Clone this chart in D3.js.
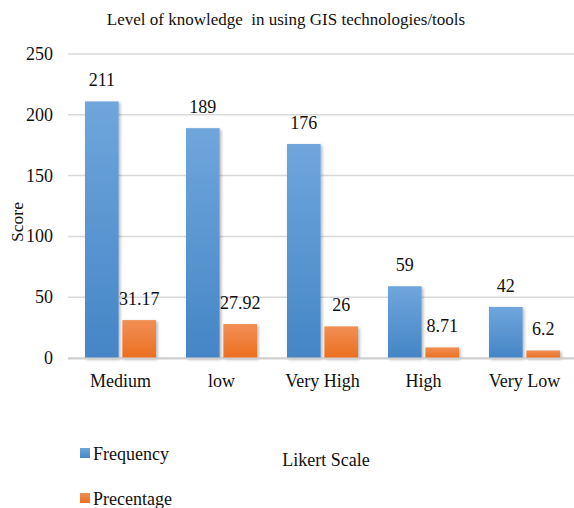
<!DOCTYPE html>
<html lang="en">
<head>
<meta charset="utf-8">
<title>GIS knowledge</title>
<script src="https://d3js.org/d3.v7.min.js"></script>
<style>
body { margin: 0; background: #fff; }
text { font-family: "Liberation Serif", "Times New Roman", serif; fill: #111; }
.grid line { stroke: #d9d9d9; stroke-width: 1.5; }
.tick-label { font-size: 18px; }
.value { font-size: 18px; }
</style>
</head>
<body>
<div id="container"></div>
<script>
var categories = ["Medium", "low", "Very High", "High", "Very Low"];
var frequency = [211, 189, 176, 59, 42];
var percentage = [31.17, 27.92, 26, 8.71, 6.2];
var percentLabels = ["31.17", "27.92", "26", "8.71", "6.2"];
var seriesNames = ["Frequency", "Precentage"];
var yTicks = [0, 50, 100, 150, 200, 250];

var w = 574, h = 508;
var plotLeft = 70, plotRight = 575, plotTop = 54, plotBottom = 358;

var svg = d3.select("#container").append("svg")
    .attr("width", w).attr("height", h);

var defs = svg.append("defs");
function grad(id, c1, c2) {
    var g = defs.append("linearGradient").attr("id", id)
        .attr("x1", 0).attr("y1", 0).attr("x2", 0).attr("y2", 1);
    g.append("stop").attr("offset", "0%").attr("stop-color", c1);
    g.append("stop").attr("offset", "100%").attr("stop-color", c2);
}
grad("gBlue", "#6fa6dc", "#4585c6");
grad("gOrange", "#f18f55", "#eb6f1f");
var f = defs.append("filter").attr("id", "shadow")
    .attr("x", "-20%").attr("y", "-20%").attr("width", "150%").attr("height", "150%");
f.append("feDropShadow").attr("dx", 1.5).attr("dy", 1.5).attr("stdDeviation", 1.5)
    .attr("flood-color", "#000").attr("flood-opacity", 0.3);

var y = d3.scaleLinear().domain([0, 250]).range([plotBottom, plotTop]);
var x = d3.scaleBand().domain(categories).range([plotLeft, plotRight]).paddingInner(0).paddingOuter(0);
var x1 = d3.scaleBand().domain(seriesNames).range([15, 86]).paddingInner(0.1);

// gridlines
svg.append("g").attr("class", "grid")
    .selectAll("line").data(yTicks).enter().append("line")
    .attr("x1", 68).attr("x2", w)
    .attr("y1", function(d) { return y(d); })
    .attr("y2", function(d) { return y(d); });

// y tick labels
svg.append("g").selectAll("text").data(yTicks).enter().append("text")
    .attr("class", "tick-label")
    .attr("x", 53).attr("y", function(d) { return y(d) + 6; })
    .attr("text-anchor", "end")
    .text(function(d) { return d; });

var groups = svg.append("g").selectAll("g").data(categories).enter().append("g")
    .attr("transform", function(d) { return "translate(" + x(d) + ",0)"; });

// frequency bars
groups.append("rect")
    .attr("x", x1("Frequency")).attr("width", x1.bandwidth())
    .attr("y", function(d, i) { return y(frequency[i]); })
    .attr("height", function(d, i) { return plotBottom - y(frequency[i]); })
    .attr("fill", "url(#gBlue)").attr("filter", "url(#shadow)");
groups.append("rect")
    .attr("x", x1("Precentage")).attr("width", x1.bandwidth())
    .attr("y", function(d, i) { return y(percentage[i]); })
    .attr("height", function(d, i) { return plotBottom - y(percentage[i]); })
    .attr("fill", "url(#gOrange)").attr("filter", "url(#shadow)");

// value labels
groups.append("text").attr("class", "value")
    .attr("x", x1("Frequency") + x1.bandwidth() / 2)
    .attr("y", function(d, i) { return y(frequency[i]) - 15; })
    .attr("text-anchor", "middle")
    .text(function(d, i) { return frequency[i]; });
groups.append("text").attr("class", "value")
    .attr("x", x1("Precentage") + x1.bandwidth() / 2)
    .attr("y", function(d, i) { return y(percentage[i]) - 15; })
    .attr("text-anchor", "middle")
    .text(function(d, i) { return percentLabels[i]; });

// zero baseline over bars
svg.append("line").attr("x1", 68).attr("x2", w)
    .attr("y1", plotBottom + 0.5).attr("y2", plotBottom + 0.5)
    .attr("stroke", "#d0d0d0").attr("stroke-width", 2);

// x category labels
svg.append("g").selectAll("text").data(categories).enter().append("text")
    .attr("class", "tick-label")
    .attr("x", function(d) { return x(d) + x.bandwidth() / 2; })
    .attr("y", 387)
    .attr("text-anchor", "middle")
    .text(function(d) { return d; });

// title
svg.append("text").attr("x", 286).attr("y", 25)
    .attr("text-anchor", "middle").style("font-size", "17px")
    .attr("xml:space", "preserve")
    .text("Level of knowledge  in using GIS technologies/tools");

// axis titles
svg.append("text")
    .attr("transform", "translate(23,222) rotate(-90)")
    .attr("text-anchor", "middle").style("font-size", "17.5px")
    .text("Score");
svg.append("text").attr("x", 326).attr("y", 466)
    .attr("text-anchor", "middle").style("font-size", "18px")
    .text("Likert Scale");

// legend
var legend = svg.append("g").selectAll("g").data(seriesNames).enter().append("g")
    .attr("transform", function(d, i) { return "translate(80," + (448 + i * 45) + ")"; });
legend.append("rect").attr("width", 10).attr("height", 10)
    .attr("fill", function(d, i) { return i === 0 ? "url(#gBlue)" : "url(#gOrange)"; });
legend.append("text").attr("x", 13).attr("y", 12)
    .style("font-size", "18px")
    .text(function(d) { return d; });
</script>
</body>
</html>
